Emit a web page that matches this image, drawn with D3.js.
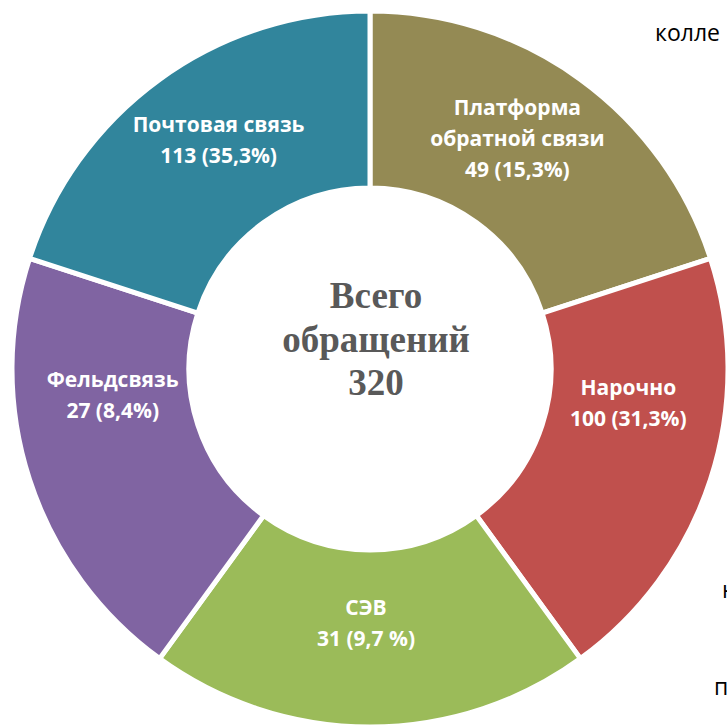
<!DOCTYPE html>
<html>
<head>
<meta charset="utf-8">
<script src="https://cdn.jsdelivr.net/npm/d3@7"></script>
<style>
  html, body { margin: 0; padding: 0; background: #fff; overflow: hidden; }
  svg { display: block; }
</style>
</head>
<body>
<div id="chart"></div>
<script>
// categories, clockwise from 12 o'clock
const categories = ["Платформа обратной связи", "Нарочно", "СЭВ", "Фельдсвязь", "Почтовая связь"];
const nameLines = [["Платформа", "обратной связи"], ["Нарочно"], ["СЭВ"], ["Фельдсвязь"], ["Почтовая связь"]];
const counts = [49, 100, 31, 27, 113];
const percentLabels = ["15,3%", "31,3%", "9,7 %", "8,4%", "35,3%"];
// the picture draws all five sectors the same size
const sliceWeights = [1, 1, 1, 1, 1];
const colors = ["#948A54", "#C0504D", "#9BBB59", "#8064A2", "#31859C"];
// fragments of text cut off at the right edge of the picture
const edgeTexts = ["колле", "н", "п"];

function drawDonut() {
  const width = 727;
  const height = 725;
  const cx = 370;
  const cy = 369;
  const outerR = 358;
  const innerR = 181;

  const svg = d3
    .select("#chart")
    .append("svg")
    .attr("width", width)
    .attr("height", height);

  const g = svg.append("g").attr("transform", `translate(${cx},${cy})`);

  const rows = categories.map((c, i) => ({
    name: c,
    lines: nameLines[i],
    count: counts[i],
    pct: percentLabels[i],
    weight: sliceWeights[i],
    color: colors[i],
  }));

  const pie = d3.pie().sort(null).value((d) => d.weight);
  const arc = d3.arc().innerRadius(innerR).outerRadius(outerR);
  const arcs = pie(rows);

  g.selectAll("path.slice")
    .data(arcs)
    .join("path")
    .attr("class", "slice")
    .attr("d", arc)
    .attr("fill", (d) => d.data.color)
    .attr("stroke", "#fff")
    .attr("stroke-width", 5)
    .attr("stroke-linejoin", "miter");

  // label nudges from the sector centroid (Excel placement)
  const labelShift = [[-11, -12], [2, -49], [-4, -15], [-1, -57], [7, -11]];
  const lineGap = 31;

  arcs.forEach((d, i) => {
    const [x, y] = arc.centroid(d);
    const lines = d.data.lines.concat([`${d.data.count} (${d.data.pct})`]);
    const top = y + labelShift[i][1] - ((lines.length - 1) * lineGap) / 2;
    const t = g
      .append("text")
      .attr("text-anchor", "middle")
      .style("fill", "#fff")
      .style("font-family", '"Open Sans", sans-serif')
      .style("font-weight", "bold")
      .style("font-size", "21px");
    lines.forEach((ln, j) => {
      t.append("tspan")
        .attr("x", x + labelShift[i][0])
        .attr("y", top + j * lineGap)
        .attr("dy", "0.35em")
        .text(ln);
    });
  });

  // centre caption
  const total = d3.sum(counts);
  const centre = ["Всего", "обращений", String(total)];
  const ct = g
    .append("text")
    .attr("text-anchor", "middle")
    .style("fill", "#595959")
    .style("font-family", '"Liberation Serif", "Times New Roman", serif')
    .style("font-weight", "bold")
    .style("font-size", "37px");
  centre.forEach((ln, j) => {
    ct.append("tspan")
      .attr("x", 6)
      .attr("y", -61 + j * 43.5)
      .text(ln);
  });

  // clipped words along the right edge
  const edgePos = [[655, 41], [722, 598], [714, 695]];
  edgeTexts.forEach((w, i) => {
    svg
      .append("text")
      .attr("x", edgePos[i][0])
      .attr("y", edgePos[i][1])
      .style("fill", "#000")
      .style("font-family", '"Open Sans", sans-serif')
      .style("font-size", "23px")
      .text(w);
  });
}

drawDonut();
</script>
</body>
</html>
